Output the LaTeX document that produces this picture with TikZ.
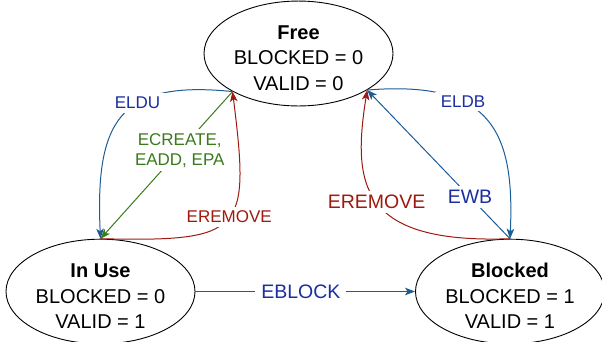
\documentclass[tikz,border=0pt]{standalone}
\usepackage{fontspec}
\setmainfont{Liberation Sans}
\usetikzlibrary{shapes.geometric,arrows.meta}
\definecolor{lineblue}{RGB}{28,92,150}
\definecolor{textblue}{RGB}{26,46,160}
\definecolor{mygreen}{RGB}{58,122,28}
\definecolor{myred}{RGB}{158,26,16}
\newcommand{\toppad}{\rule{0pt}{23pt}}
\tikzset{
  state/.style={ellipse, draw, line width=0.9pt, inner sep=0pt, align=center,
    font=\fontsize{20}{25.5}\selectfont, minimum width=189pt},
  lbl/.style={fill=white, inner xsep=6pt, inner ysep=4pt, align=center},
  small/.style={font=\fontsize{17}{20}\selectfont},
  big/.style={font=\fontsize{19.5}{22}\selectfont},
  conn/.style={line width=1pt, -{Stealth[length=10pt,width=7.5pt,inset=2.5pt]}},
}
\begin{document}
\begin{tikzpicture}[x=1pt,y=-1pt]
\useasboundingbox (0,0) rectangle (602,341);
\node[state, minimum height=103pt] (free) at (298.5,53.5) {\toppad\textbf{Free}\\BLOCKED = 0\\VALID = 0};
\node[state, minimum height=95pt] (inuse) at (100.5,291.5) {\toppad\textbf{In Use}\\BLOCKED = 0\\VALID = 1};
\node[state, minimum height=95pt] (blocked) at (510,291.5) {\toppad\textbf{Blocked}\\BLOCKED = 1\\VALID = 1};

% left side
\draw[conn, lineblue] (free.210) .. controls (120,80) and (95,120) .. (inuse.north)
  node[lbl, small, text=textblue, pos=0.39] {ELDU};
\draw[conn, mygreen] (free.210) -- (inuse.north)
  node[lbl, small, text=mygreen, pos=0.4] {ECREATE,\\EADD, EPA};
\draw[conn, myred] (inuse.north) .. controls (245,242) and (250,232) .. (free.210)
  node[lbl, small, text=myred, pos=0.52] {EREMOVE};

% right side
\draw[conn, lineblue] (free.332) .. controls (490,80) and (515,130) .. (blocked.north)
  node[lbl, small, text=textblue, pos=0.35] {ELDB};
\draw[conn, lineblue] (blocked.north) -- (free.332)
  node[lbl, big, text=textblue, pos=0.28] {EWB};
\draw[conn, myred] (blocked.north) .. controls (360,244) and (352,185) .. (free.332)
  node[lbl, big, text=myred, pos=0.5] {EREMOVE};

% bottom
\draw[conn, lineblue] (inuse.east) -- (blocked.west)
  node[lbl, big, text=textblue, pos=0.48] {EBLOCK};
\end{tikzpicture}
\end{document}
